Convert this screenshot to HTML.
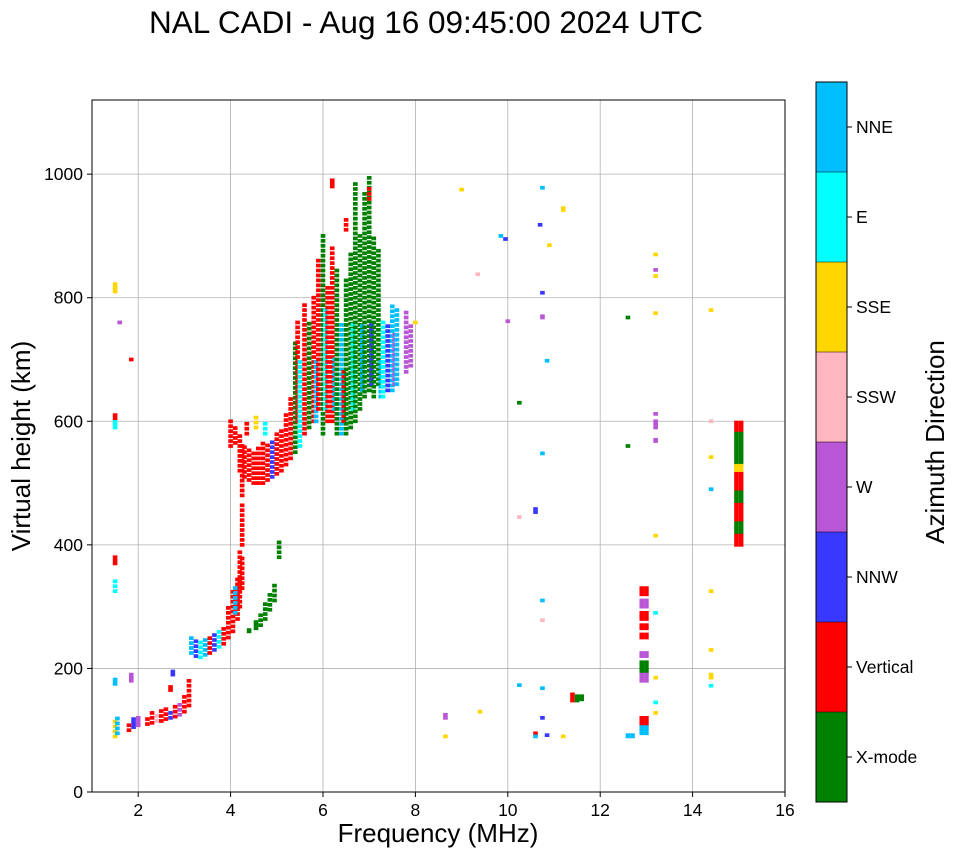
<!DOCTYPE html>
<html><head><meta charset="utf-8"><style>
body{margin:0;background:#fff;}
svg{display:block;font-family:"Liberation Sans",sans-serif;}
</style></head><body>
<svg id="chart" width="958" height="857">
<text x="426" y="33" text-anchor="middle" font-size="31.5">NAL CADI - Aug 16 09:45:00 2024 UTC</text>
<g id="grid"></g>
<g id="marks"></g>
<rect x="92" y="100" width="693" height="692" fill="none" stroke="#000"/>
<g id="ticks"></g>
<text x="438" y="842" text-anchor="middle" font-size="26">Frequency (MHz)</text>
<text transform="translate(30,446) rotate(-90)" text-anchor="middle" font-size="26">Virtual height (km)</text>
<g id="cbar"></g>
<text transform="translate(944,442) rotate(-90)" text-anchor="middle" font-size="26">Azimuth Direction</text>
</svg>
<script>
const dirNames=["X-mode","Vertical","NNW","W","SSW","SSE","E","NNE"];
const dirColors=["#008000","#ff0000","#3838ff","#b956d6","#ffb6c1","#ffd700","#00ffff","#00bfff"];
const xTicks=[2,4,6,8,10,12,14,16];
const yTicks=[0,200,400,600,800,1000];
const runF=[1.5,1.55,1.5,1.5,1.5,1.5,1.5,1.5,1.8,1.9,2.0,1.85,1.85,1.6,
2.2,2.3,2.4,2.5,2.6,2.7,2.8,2.9,3.0,3.1,2.7,2.75,
3.15,3.25,3.35,3.45,3.55,3.65,3.75,3.85,3.95,4.05,4.15,4.1,4.2,4.25,
4.25,4.25,4.4,4.55,4.65,4.75,4.85,4.95,5.05,
4.0,4.1,4.2,4.3,4.4,4.5,4.6,4.7,4.8,4.9,5.0,5.1,5.2,4.35,4.55,4.75,
5.3,5.4,5.45,5.5,5.6,5.7,5.8,5.85,5.9,6.0,6.05,6.1,6.2,6.25,6.3,6.4,6.45,6.5,6.6,6.65,6.7,6.8,6.85,6.9,7.0,7.05,7.1,7.2,7.25,7.3,7.4,7.5,7.55,7.6,7.8,7.9,6.5,6.2,7.0,
8.0,9.0,9.35,8.65,8.65,9.4,9.85,9.95,10.0,10.25,10.25,10.6,10.75,10.7,11.2,10.9,10.75,10.75,10.85,10.75,10.75,10.75,10.25,10.75,10.75,10.6,10.6,10.85,11.2,
11.4,11.5,11.6,12.6,12.7,12.6,12.6,
12.9,13.0,12.9,13.0,12.9,13.0,12.9,13.0,12.9,13.0,12.9,13.0,12.9,13.0,12.9,13.0,12.9,13.0,12.9,13.0,
13.2,13.2,13.2,13.2,13.2,13.2,13.2,13.2,13.2,13.2,13.2,13.2,
14.4,14.4,14.4,14.4,14.4,14.4,14.4,14.4,
14.95,15.05,14.95,15.05,14.95,15.05,14.95,15.05,14.95,15.05,14.95,15.05,14.95,15.05,14.95,15.05];
const runH0=[90,95,325,370,590,605,810,175,100,105,108,180,700,760,
110,112,115,115,118,120,122,125,130,140,165,190,
225,220,218,222,225,230,235,240,250,260,280,290,300,330,
400,480,260,265,270,280,295,310,380,
560,565,520,510,505,500,500,500,505,510,515,520,530,580,590,580,
540,550,600,560,580,590,600,600,620,580,620,600,600,620,580,580,600,580,590,620,600,620,650,640,650,660,640,660,640,640,650,650,660,660,680,690,910,980,960,
760,975,838,120,90,130,900,895,762,630,445,453,978,918,942,885,808,768,698,548,310,278,173,168,120,95,90,92,90,
148,148,150,90,90,560,768,
320,320,300,300,280,280,265,265,250,250,220,220,195,195,180,180,110,110,95,95,
870,845,835,775,612,590,568,415,290,185,145,128,
780,600,542,490,325,230,185,172,
585,585,530,530,520,520,490,490,470,470,440,440,420,420,400,400];
const runH1=[115,120,345,380,600,610,822,182,115,118,120,190,700,760,
125,128,130,135,135,135,140,145,160,185,170,195,
255,250,245,248,255,258,262,270,300,330,350,330,390,380,
470,560,262,275,290,310,325,340,405,
600,590,580,560,555,555,560,565,565,570,580,590,610,600,610,600,
640,730,760,700,790,760,800,700,860,900,780,820,880,700,850,760,680,830,870,760,990,900,760,970,1000,760,900,880,700,760,760,790,740,780,780,760,930,990,980,
760,975,838,125,90,130,900,895,762,630,445,458,978,918,945,885,808,770,698,548,310,278,173,168,120,95,90,92,90,
158,155,155,92,92,560,768,
330,330,310,310,290,290,270,270,255,255,225,225,210,210,190,190,120,120,105,105,
870,845,835,775,612,600,570,415,290,185,145,128,
780,600,542,490,325,230,190,172,
598,598,580,580,528,528,515,515,485,485,465,465,435,435,415,415];
const runD=[5,7,6,1,6,1,5,7,1,2,3,3,1,3,
1,1,4,1,1,2,1,3,1,1,1,2,
7,2,6,7,1,2,6,1,1,1,1,7,1,1,
1,1,0,0,0,0,0,0,0,
1,1,1,1,1,1,1,1,1,2,1,1,1,1,5,6,
1,0,1,6,1,0,1,7,1,0,6,1,1,7,0,7,1,0,0,6,0,0,7,0,0,2,0,0,7,6,2,7,3,7,3,3,1,1,1,
5,5,4,3,5,5,7,2,3,0,4,2,7,2,5,5,2,3,7,7,7,4,7,7,2,1,7,2,5,
1,0,0,7,7,0,0,
1,1,3,3,1,1,1,1,1,1,3,3,0,0,3,3,1,1,7,7,
5,3,5,5,3,3,3,5,6,5,6,5,
5,4,5,7,5,5,5,6,
1,1,0,0,5,5,1,1,0,0,1,1,0,0,1,1];

const x0=92,x1=785,y0=792,y1=100;
const xs=f=>x0+(f-1)/(16-1)*(x1-x0);
const ys=h=>y0-h/1120*(y0-y1);
const NS="http://www.w3.org/2000/svg";
function mk(tag,attrs,parent){const e=document.createElementNS(NS,tag);for(const k in attrs)e.setAttribute(k,attrs[k]);parent.appendChild(e);return e;}
const grid=document.getElementById('grid'),ticks=document.getElementById('ticks'),marks=document.getElementById('marks'),cbar=document.getElementById('cbar');
xTicks.forEach(t=>{const X=xs(t);
 if(t<16){const g=mk('line',{x1:X,x2:X,y1:y1,y2:y0,stroke:'#b0b0b0','stroke-width':0.8},grid);
 
 }
 mk('line',{x1:X,x2:X,y1:y0,y2:y0+5,stroke:'#000'},ticks);
 const l=mk('text',{x:X,y:y0+24,'text-anchor':'middle','font-size':17.5},ticks);l.textContent=t;
 
 });
yTicks.forEach(t=>{const Y=ys(t);
 if(t>0){const g=mk('line',{x1:x0,x2:x1,y1:Y,y2:Y,stroke:'#b0b0b0','stroke-width':0.8},grid);
 
 }
 mk('line',{x1:x0-5,x2:x0,y1:Y,y2:Y,stroke:'#000'},ticks);
 const l=mk('text',{x:x0-9,y:Y+6,'text-anchor':'end','font-size':17.5},ticks);l.textContent=t;
 
 });
const cw=(xs(1.1)-xs(1));
for(let i=0;i<runF.length;i++){
 const span=runH1[i]-runH0[i];
 if(span<=14 || runF[i]>=12){
  const top=ys(runH1[i]+3),bot=ys(runH0[i]-3);
  const r=mk('rect',{x:xs(runF[i])-cw/2,y:top,width:cw,height:bot-top,fill:dirColors[runD[i]]},marks);
  
  
 } else {
  for(let h=runH0[i];h<=runH1[i];h+=8){
   const top=ys(h+3),bot=ys(h-3);
   const r=mk('rect',{x:xs(runF[i])-cw/2,y:top,width:cw,height:bot-top,fill:dirColors[runD[i]]},marks);
   
   
  }
 }
}
const cbX=816,cbTop=82,cbH=720,n=dirNames.length,bh=cbH/n;
for(let i=0;i<n;i++){
 const yb=cbTop+cbH-(i+1)*bh;
 const r=mk('rect',{x:cbX,y:yb,width:31,height:bh,fill:dirColors[i]},cbar);
 
 
 mk('line',{x1:cbX+31,x2:cbX+36,y1:yb+bh/2,y2:yb+bh/2,stroke:'#000'},cbar);
 const l=mk('text',{x:cbX+40,y:yb+bh/2+6,'font-size':17.5},cbar);l.textContent=dirNames[i];
 
 
}
for(let i=0;i<=n;i++){mk('line',{x1:cbX,x2:cbX+31,y1:cbTop+i*bh,y2:cbTop+i*bh,stroke:'#000','stroke-width':0.5},cbar);}
mk('rect',{x:cbX,y:cbTop,width:31,height:cbH,fill:'none',stroke:'#000'},cbar);
</script>
</body></html>
